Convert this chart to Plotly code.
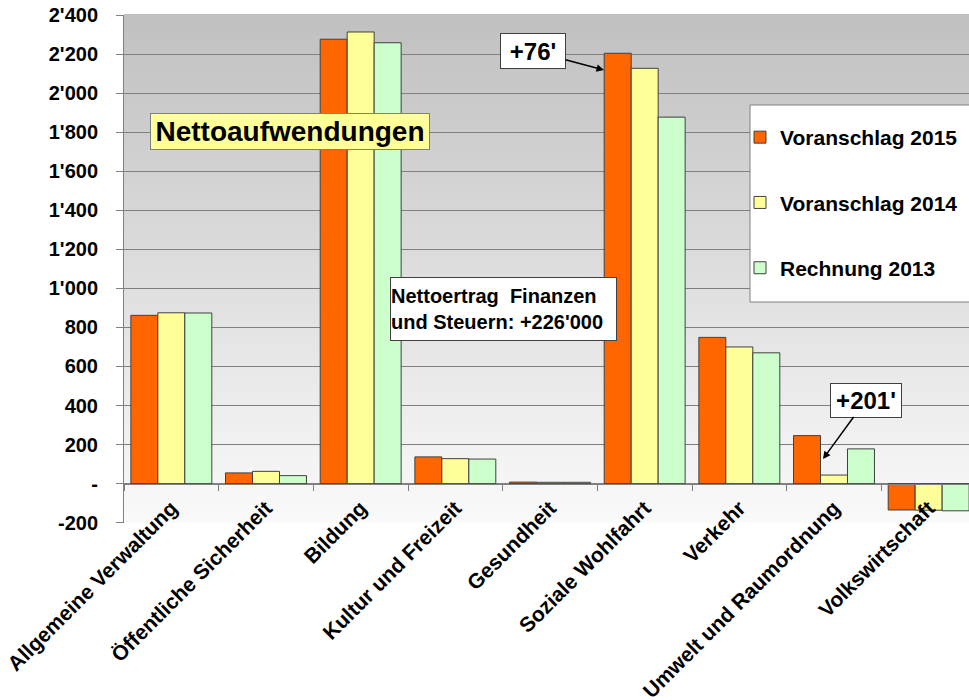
import plotly.graph_objects as go

categories = ["Allgemeine Verwaltung", "Öffentliche Sicherheit", "Bildung", "Kultur und Freizeit",
              "Gesundheit", "Soziale Wohlfahrt", "Verkehr", "Umwelt und Raumordnung", "Volkswirtschaft"]
va2015 = [862, 55, 2276, 137, 8, 2204, 749, 246, -135]
va2014 = [875, 63, 2313, 128, 7, 2127, 700, 44, -136]
re2013 = [874, 41, 2258, 126, 7, 1877, 670, 178, -139]
series_names = ["Voranschlag 2015", "Voranschlag 2014", "Rechnung 2013"]
series_colors = ["#ff6600", "#ffff99", "#ccffcc"]
y_tickvals = [-200, 0, 200, 400, 600, 800, 1000, 1200, 1400, 1600, 1800, 2000, 2200, 2400]
y_ticktext = ["-200", "-", "200", "400", "600", "800", "1'000", "1'200", "1'400", "1'600",
              "1'800", "2'000", "2'200", "2'400"]

W, H = 969, 700
L, R, T, B = 124, 969, 15, 523


def px_x(p):
    return (p - L) / (R - L)


def px_y(p):
    return (B - p) / (B - T)


FONT = "Liberation Sans, Arial, sans-serif"
fig = go.Figure()
for i, (name, vals, col) in enumerate(zip(series_names, [va2015, va2014, re2013], series_colors)):
    fig.add_trace(go.Bar(x=categories, y=vals, name=name, legendgroup=name,
                         marker=dict(color=col, line=dict(color="#404040", width=1))))

# gradient background
shapes = []
N = 120
for k in range(N):
    f = (k + 0.5) / N
    v = int(round(250 - 58 * f))
    shapes.append(dict(type="rect", xref="x domain", yref="y domain", x0=0, x1=1,
                       y0=k / N, y1=(k + 1) / N + 0.002, line=dict(width=0),
                       fillcolor=f"rgb({v},{v},{v})", layer="below"))
# legend box
shapes.append(dict(type="rect", xref="paper", yref="paper", x0=px_x(750), x1=px_x(990),
                   y0=px_y(302), y1=px_y(105), line=dict(color="#808080", width=1),
                   fillcolor="white", layer="above"))

annotations = [
    dict(text="Nettoaufwendungen", xref="paper", yref="paper", x=px_x(290), y=px_y(131.5),
         xanchor="center", yanchor="middle",
         showarrow=False, bgcolor="#ffff99", bordercolor="#808080", borderwidth=1, borderpad=0,
         width=278, height=35, font=dict(size=28, family=FONT, color="black", weight="bold")),
    dict(text="+76'", xref="paper", yref="paper", x=px_x(604), y=px_y(70),
         ax=-71, ay=-19, showarrow=True, arrowhead=2, arrowsize=1, arrowwidth=1.5, arrowcolor="black",
         bgcolor="white", bordercolor="#404040", borderwidth=1, borderpad=0,
         width=64, height=34, font=dict(size=24, family=FONT, color="black", weight="bold")),
    dict(text="+201'", xref="paper", yref="paper", x=px_x(823), y=px_y(459),
         ax=43, ay=-59, showarrow=True, arrowhead=2, arrowsize=1, arrowwidth=1.5, arrowcolor="black",
         bgcolor="white", bordercolor="#404040", borderwidth=1, borderpad=0,
         width=70, height=33, font=dict(size=24, family=FONT, color="black", weight="bold")),
    dict(text="Nettoertrag  Finanzen<br>und Steuern: +226'000", xref="paper", yref="paper",
         x=px_x(503.5), y=px_y(309), xanchor="center", yanchor="middle",
         showarrow=False, align="left",
         bgcolor="white", bordercolor="#404040", borderwidth=1, borderpad=0,
         width=225, height=62, font=dict(size=20, family=FONT, color="black", weight="bold")),
]

fig.update_layout(
    width=W, height=H,
    margin=dict(l=L, r=W - R, t=T, b=H - B, pad=0),
    paper_bgcolor="white", plot_bgcolor="white",
    font=dict(family=FONT, size=20, color="black", weight="bold"),
    barmode="group", bargap=0.145, bargroupgap=0,
    shapes=shapes, annotations=annotations,
    legend=dict(x=px_x(740), y=px_y(117), xanchor="left", yanchor="top",
                bgcolor="rgba(0,0,0,0)", borderwidth=0, tracegroupgap=35,
                traceorder="grouped", font=dict(size=21, family=FONT, color="black", weight="bold")),
    xaxis=dict(type="category", range=[-0.5, 8.5 - 7 / 94.7], anchor="free", position=201.5 / 2601.5,
               showline=True, linecolor="#808080", linewidth=1, automargin=False,
               ticks="outside", ticklen=6, tickcolor="#808080", tickson="boundaries",
               tickangle=-45, showgrid=False, ticklabelstandoff=3,
               tickfont=dict(size=21, family=FONT, color="black", weight="bold")),
    yaxis=dict(range=[-201.5, 2400], tickvals=y_tickvals, ticktext=y_ticktext,
               showline=True, linecolor="#808080", linewidth=1, automargin=False,
               ticks="outside", ticklen=7, tickcolor="#808080",
               showgrid=True, gridcolor="#808080", gridwidth=1, zeroline=False,
               ticklabelstandoff=14,
               tickfont=dict(size=20, family=FONT, color="black", weight="bold")),
)

fig.write_html("out.html")
